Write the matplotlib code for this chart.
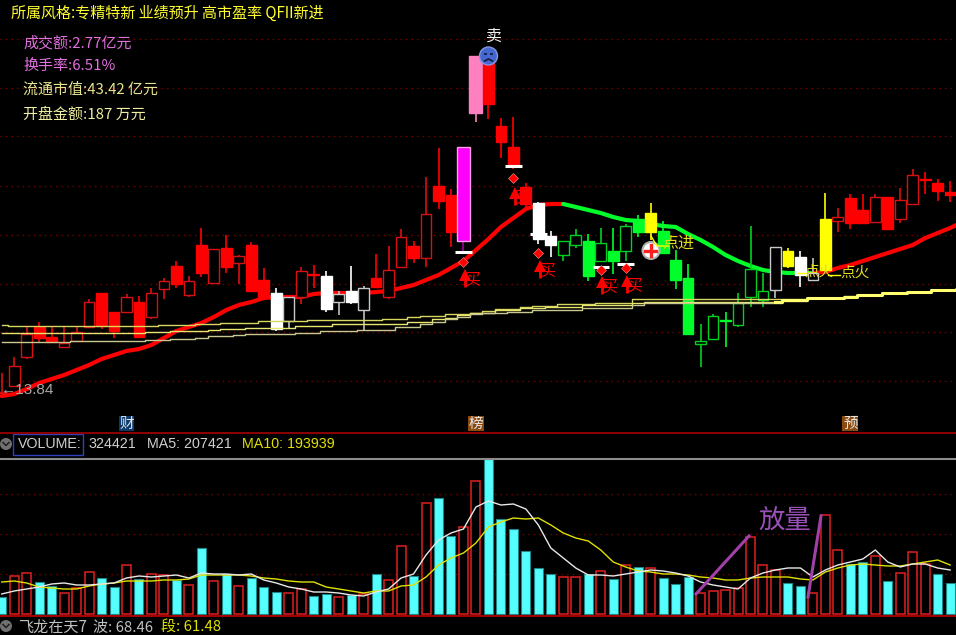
"""Stock K-line screenshot: candles, moving averages, signals and a volume pane."""

import numpy as np
import matplotlib
matplotlib.use('Agg')
import matplotlib.pyplot as plt
from matplotlib.patches import Circle, Rectangle

plt.rcParams['font.family'] = ['Noto Sans CJK SC', 'DejaVu Sans']

# ── Candles (chart levels, one unit per screen pixel) ─────────────────────────
body_hi = [8, 34, 66, 73, 63, 57, 68, 98, 107, 88, 103, 98, 107, 119, 134, 119, 155, 151, 152, 144,
           155, 120, 107, 103, 129, 126, 124, 106, 109, 112, 122, 130, 163, 154, 186, 214, 205, 253, 344, 337,
           274, 253, 213, 197, 164, 159, 165, 159, 157, 149, 174, 181, 187, 169, 140, 122, 59, 84, 80, 97,
           131, 109, 153, 149, 143, 127, 181, 183, 202, 190, 203, 203, 200, 225, 221, 217, 208]
body_lo = [7, 14, 43, 62, 58, 53, 59, 73, 74, 69, 88, 63, 83, 111, 116, 105, 127, 117, 133, 137,
           109, 103, 71, 79, 103, 125, 91, 98, 98, 90, 113, 103, 133, 142, 142, 199, 168, 159, 287, 296,
           258, 235, 196, 161, 155, 145, 155, 124, 139, 139, 149, 168, 168, 147, 120, 66, 56, 61, 79, 75,
           103, 100, 110, 134, 125, 120, 130, 179, 177, 177, 178, 171, 181, 196, 220, 209, 205]
high = [27, 43, 73, 78, 73, 73, 73, 101, 107, 88, 106, 104, 112, 122, 139, 124, 172, 151, 165, 145,
        158, 132, 112, 103, 133, 135, 129, 109, 134, 114, 146, 154, 171, 159, 223, 252, 211, 253, 344, 345,
        282, 283, 217, 198, 169, 159, 171, 166, 172, 172, 176, 185, 197, 179, 150, 136, 76, 86, 88, 107,
        174, 127, 153, 152, 149, 142, 207, 192, 206, 206, 206, 203, 212, 231, 228, 221, 219]
low = [7, 14, 41, 58, 58, 52, 58, 72, 71, 62, 87, 63, 81, 101, 112, 103, 123, 116, 127, 116,
       109, 103, 69, 72, 96, 112, 88, 85, 96, 70, 112, 101, 133, 137, 133, 191, 153, 147, 278, 281,
       242, 231, 192, 156, 143, 139, 152, 119, 139, 126, 139, 163, 160, 147, 111, 66, 33, 61, 53, 73,
       93, 93, 102, 132, 113, 120, 130, 168, 171, 177, 178, 171, 177, 196, 206, 199, 198]
candle_kind = "RRRrrRRRrrRrRRrRrRrRrrwWRrwWwWrRRrRrrmprrrrwwGGgGgGgygggGGgGGGWywWyRrrRrRRrrr"

# ── Moving averages on the price pane ─────────────────────────────────────────
trend_line = [4, 6, 11, 17, 21, 25, 30, 35, 41, 45, 49, 51, 55, 62, 69, 73, 77, 83, 90, 95,
              98, 102, 103, 103, 103, 106, 107, 107, 107, 107, 108, 109, 112, 115, 120, 125, 132, 139, 150, 161,
              173, 182, 191, 195, 196, 196, 193, 190, 187, 183, 180, 179, 176, 174, 173, 166, 160, 153, 145, 139,
              134, 130, 128, 127, 127, 127, 128, 132, 135, 139, 143, 147, 151, 155, 162, 167, 172, 178]
ma_slow_a = [75, 74, 74, 74, 74, 74, 74, 74, 74, 74, 74, 74, 74, 75, 75, 75, 76, 76, 77, 77,
             77, 79, 79, 79, 79, 80, 80, 80, 80, 80, 80, 81, 81, 83, 84, 84, 86, 86, 87, 89,
             91, 91, 93, 94, 94, 96, 96, 96, 97, 97, 97, 101, 101, 101, 101, 101, 101, 101, 101, 101,
             101, 101, 101, 101, 101, 102, 102, 102, 104, 105, 105, 107, 107, 108, 108, 110, 110, 111]
ma_slow_b = [67, 67, 67, 67, 67, 67, 67, 67, 67, 67, 67, 67, 68, 68, 69, 69, 69, 70, 71, 71,
             72, 72, 72, 72, 74, 74, 74, 76, 76, 76, 76, 76, 76, 78, 78, 81, 82, 85, 87, 87,
             90, 90, 92, 92, 93, 93, 93, 95, 95, 95, 95, 97, 98, 98, 98, 98, 98, 98, 98, 98,
             98, 98, 98, 100, 100, 102, 102, 102, 103, 105, 105, 107, 107, 108, 108, 110, 110, 111]
ma_slow_c = [58, 58, 58, 58, 58, 58, 59, 59, 59, 59, 59, 59, 60, 60, 61, 61, 62, 64, 64, 65,
             66, 66, 66, 66, 67, 67, 69, 69, 69, 70, 70, 70, 73, 73, 76, 78, 81, 83, 86, 87,
             87, 88, 88, 90, 90, 90, 90, 92, 92, 92, 92, 95, 97, 97, 97, 97, 97, 97, 97, 97,
             97, 97, 97, 99, 99, 102, 102, 102, 103, 105, 105, 107, 107, 108, 108, 110, 110, 111]

# ── Signals ───────────────────────────────────────────────────────────────────
buy_idx = [37, 41, 43, 48, 50]
buy_level = [128, 210, 137, 121, 122]
diamond_level = [138, 222, 147, 130, 132]
bar_level = [148, 234, 166, 133, 136]

# ── Volume pane ───────────────────────────────────────────────────────────────
volume = [17, 38, 41, 32, 28, 21, 26, 42, 36, 27, 49, 35, 40, 39, 34, 29, 66, 33, 40, 28,
          36, 27, 22, 21, 25, 18, 20, 17, 19, 20, 40, 34, 68, 38, 111, 116, 78, 87, 133, 155,
          95, 85, 63, 46, 40, 37, 37, 40, 43, 35, 49, 47, 46, 36, 30, 37, 21, 23, 24, 26,
          77, 49, 44, 31, 28, 21, 99, 64, 50, 52, 58, 33, 41, 62, 50, 40, 31]
volume_kind = "CRRCCRRRCCRCRRCRCRCRCCCRRCCRCRCRRCRCCRRCCCCCCRRCRCRCRCCCRRRRRRRCCRRRCCRCRRRCC"
vol_ma5 = [20, 23, 25, 27, 30, 31, 29, 29, 30, 31, 36, 38, 37, 38, 39, 36, 41, 40, 40, 39,
           40, 34, 31, 27, 25, 22, 22, 21, 19, 18, 22, 25, 36, 40, 59, 74, 81, 85, 107, 113,
           109, 110, 105, 89, 66, 56, 46, 39, 39, 38, 40, 42, 44, 43, 41, 38, 32, 29, 27, 25,
           36, 41, 44, 46, 46, 37, 44, 49, 52, 55, 64, 52, 47, 50, 50, 46, 44]
vol_ma10 = [32, 33, 31, 27, 26, 25, 25, 28, 30, 31, 33, 33, 33, 34, 34, 35, 39, 39, 39, 39,
            38, 36, 35, 33, 32, 32, 27, 25, 23, 21, 23, 23, 28, 29, 37, 49, 56, 61, 71, 87,
            92, 96, 95, 96, 89, 81, 76, 73, 64, 52, 47, 43, 42, 40, 40, 39, 37, 36, 34, 34,
            36, 37, 37, 37, 35, 34, 42, 46, 49, 50, 49, 48, 48, 50, 52, 54, 49]

# ── Text ──────────────────────────────────────────────────────────────────────
style_text = "所属风格:专精特新 业绩预升 高市盈率 QFII新进"
stat_lines = ["成交额:2.77亿元", "换手率:6.51%", "流通市值:43.42 亿元", "开盘金额:187 万元"]
stat_colors = ['#e070e0', '#e070e0', '#e6e690', '#f0f0a0']
badges = ["财", "榜", "预"]
badge_idx = [10, 38, 68]
badge_colors = ['#0b3a6e', '#8a4a10', '#8a4a10']

W, H = 956, 635
STEP = 12.48
X0 = 1.7

COLORS = {
    'r': ('#ff0000', '#ff0000'), 'R': ('#000000', '#d81010'),
    'w': ('#ffffff', '#ffffff'), 'W': ('#000000', '#c8c8c8'),
    'g': ('#00ff2a', '#00ff2a'), 'G': ('#000000', '#00d020'),
    'y': ('#ffff00', '#ffff00'), 'm': ('#ff00ff', '#ffa0e0'), 'p': ('#ff80c0', '#ff80c0'),
}
C_GRID = '#7a0000'
C_LABEL = '#e4dc20'


def pane(top, bottom, y_top, y_bottom):
    # one axes per pane, sharing the candle index on x
    ax = fig.add_axes([0, 1 - bottom / H, 1, (bottom - top) / H])
    ax.set_xlim(-X0 / STEP, (W - X0) / STEP)
    ax.set_ylim(y_bottom, y_top)
    ax.axis('off')
    ax.patch.set_alpha(0)
    return ax


fig = plt.figure(figsize=(W / 100, H / 100), dpi=100, facecolor='black')

# ── Price pane ────────────────────────────────────────────────────────────────
ax = pane(0, 433, 400, -33)
for lvl in [361, 312, 264, 214, 165, 116, 68, 19]:
    ax.axhline(lvl, color=C_GRID, lw=1, ls=(0, (1, 3)), zorder=1)

x_ma = np.arange(len(trend_line))
trend = np.array(trend_line, dtype=float)
ax.plot(x_ma[:46], trend[:46], color='#ff0000', lw=3, zorder=2, solid_capstyle='round')
ax.plot(x_ma[45:66], trend[45:66], color='#00ff2a', lw=3, zorder=2, solid_capstyle='round')
ax.plot(x_ma[65:], trend[65:], color='#ff0000', lw=3, zorder=2, solid_capstyle='round')

for i, kind in enumerate(candle_kind):
    face, edge = COLORS[kind]
    width = 1.04 if kind in 'mp' else 0.86
    wick = '#a000a0' if kind == 'm' else ('#c0c0c0' if kind == 'W' else edge)
    ax.vlines(i, low[i], high[i], color=wick, lw=1.2, zorder=3)
    ax.bar(i, max(body_hi[i] - body_lo[i], 1), bottom=body_lo[i], width=width,
           facecolor=face, edgecolor=edge, lw=1, zorder=4)

ax.step(x_ma, ma_slow_a, where='mid', color='#d8d860', lw=1, zorder=5)
ax.step(x_ma, ma_slow_b, where='mid', color='#e6e670', lw=1, zorder=5)
ax.step(x_ma, ma_slow_c, where='mid', color='#c8c890', lw=1, zorder=5)
ax.step(x_ma[62:], ma_slow_b[62:], where='mid', color='#ffff70', lw=2.2, zorder=5)

for i, tip, dia, bar in zip(buy_idx, buy_level, diamond_level, bar_level):
    ax.hlines(bar, i - 0.66, i + 0.66, color='white', lw=2.2, zorder=6)
    ax.plot(i, dia, marker='D', ms=5, color='#ff0000', mec='#ff9090', mew=0.4, zorder=6)
    ax.vlines(i + 0.1, tip - 15, tip - 3, color='#ff0000', lw=2, zorder=6)
    ax.plot(i + 0.1, tip - 3, marker='^', ms=9, color='#ff0000', mew=0, zorder=6)
    ax.text(i + 0.7, tip - 8, '买', color='#ff0000', fontsize=11.5, ha='center', va='center', zorder=6)

# ── Volume pane ───────────────────────────────────────────────────────────────
vx = pane(459, 616, 155, -2)
for lvl in [120, 80, 40]:
    vx.axhline(lvl, color=C_GRID, lw=1, ls=(0, (1, 3)), zorder=1)
for i, (v, kind) in enumerate(zip(volume, volume_kind)):
    if kind == 'C':
        vx.bar(i, v, width=0.72, facecolor='#55ffff', edgecolor='#208888', lw=0.8, zorder=2)
    else:
        vx.bar(i, v, width=0.72, facecolor='black', edgecolor='#e02020', lw=1.1, zorder=2)
x_vol = np.arange(len(volume))
vx.plot(x_vol, vol_ma10, color='#e0e000', lw=1, zorder=3)
vx.plot(x_vol, vol_ma5, color='#e8e8e8', lw=1, zorder=3)

# ── Screen furniture ──────────────────────────────────────────────────────────
top = fig.add_axes([0, 0, 1, 1])
top.set_xlim(0, W)
top.set_ylim(H, 0)
top.axis('off')
top.patch.set_alpha(0)

top.hlines(433, 0, W, color='#8a0000', lw=1.5)
top.hlines(459, 0, W, color='#8c8c8c', lw=1.5)
top.hlines(616, 0, W, color='#a00000', lw=1.5)

top.text(11, 13, style_text, color='#ffff30', fontsize=10.85, va='center')
for y, line, col in zip([43, 66, 90, 115], stat_lines, stat_colors):
    top.text(23, y, line, color=col, fontsize=10.8, va='center')

top.text(1, 390, '←13.84', color='#a8a8a8', fontsize=11, family='Liberation Sans', va='center')

for label, i, col in zip(badges, badge_idx, badge_colors):
    xc = X0 + STEP * i
    top.add_patch(Rectangle((xc - 8, 416), 16, 15, facecolor=col, edgecolor='none'))
    top.text(xc, 423.5, label, color='#e8e8e8', fontsize=10.5, ha='center', va='center')

# sell marker
top.text(494, 36, '卖', color='#f0f0f0', fontsize=11.5, ha='center', va='center')
top.add_patch(Circle((488.5, 56), 9, facecolor='#4468d0', edgecolor='#8098e0', lw=1))
top.plot([485, 486], [54, 54], color='#101840', lw=1.3)
top.plot([491, 492], [54, 54], color='#101840', lw=1.3)
top.plot([484.5, 488.5, 492.5], [61, 59, 61], color='#101840', lw=1.2)

# add-position marker and labels
top.add_patch(Circle((651, 250.5), 8.5, facecolor='white', edgecolor='#b0b0b0', lw=1.5, zorder=7))
top.plot([645.5, 656.5], [250.5, 250.5], color='#ff2020', lw=2.4, zorder=8)
top.plot([651, 651], [245, 256], color='#ff2020', lw=2.4, zorder=8)

top.plot([651, 657, 668], [236, 246, 246], color='#ffff00', lw=1, zorder=8)
top.text(678, 243, '点进', color=C_LABEL, fontsize=11.5, ha='center', va='center', zorder=8)
top.plot([798, 806], [273, 273], color='#ffff00', lw=1, zorder=8)
top.text(819, 272, '点火', color=C_LABEL, fontsize=10.5, ha='center', va='center', zorder=8)
top.plot([828, 840], [275, 275], color='#ffff00', lw=1, zorder=8)
top.text(855, 273, '点火', color=C_LABEL, fontsize=10.5, ha='center', va='center', zorder=8)

# volume annotation
top.plot([696, 749], [594, 536], color='#a040a8', lw=2.2)
top.plot([808, 821], [597, 516], color='#a040a8', lw=2.2)
top.text(785, 521, '放量', color='#9a50b8', fontsize=19, ha='center', va='center')

# volume header and footer
for yc in [444, 626]:
    top.add_patch(Circle((6, yc), 6, facecolor='#707070', edgecolor='none'))
    top.plot([3, 6, 9], [yc - 1.5, yc + 1.5, yc - 1.5], color='#202020', lw=1.1)
top.add_patch(Rectangle((13.5, 433.5), 69.5, 21, facecolor='none', edgecolor='#3040c0', lw=1))
HEAD = dict(fontsize=10.3, family='Liberation Sans', va='center')
top.text(18, 444, 'VOLUME:', color='#d0d0d0', **HEAD)
top.text(88, 444, '324421', color='#d0d0d0', **HEAD)
top.text(147, 444, 'MA5: 207421', color='#d0d0d0', **HEAD)
top.text(242, 444, 'MA10: 193939', color='#e0e000', **HEAD)
top.text(18, 627, '飞龙在天7', color='#c0c0c0', fontsize=10.9, va='center')
top.text(93, 627, '波: 68.46', color='#c0c0c0', fontsize=10.8, va='center')
top.text(161, 627, '段: 61.48', color='#e0e000', fontsize=10.8, va='center')

fig.savefig('out.png', dpi=100, facecolor='black')
plt.close(fig)
